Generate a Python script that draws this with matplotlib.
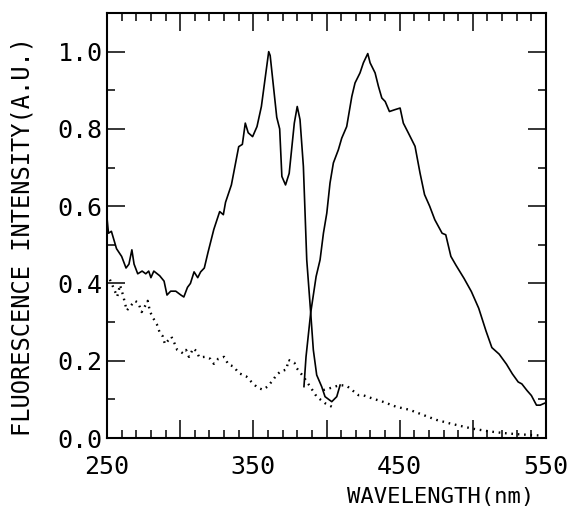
import matplotlib
matplotlib.use("Agg")
import matplotlib.pyplot as plt
from matplotlib.ticker import MultipleLocator, FuncFormatter

# Excitation spectrum (solid)
exc_wl = [250, 251, 253, 256.5, 260, 263, 265, 267, 268.5, 271, 274, 276.5, 278.5, 280, 282,
          286, 289, 291, 293.5, 297, 300.5, 302.5, 305, 307, 309.5, 312, 314, 316.5, 319, 323,
          327, 329.5, 331, 335, 340, 342.5, 344.5, 346.5, 349.5, 352.5, 355.5, 360.5, 361.5,
          366, 368, 369.5, 372, 374.5, 378, 380, 381.9, 384.2, 386.5, 389.2, 391, 393.3,
          396.7, 399, 403.6, 407, 409.3]
exc_val = [0.57, 0.53, 0.535, 0.49, 0.47, 0.44, 0.45, 0.487, 0.45, 0.425, 0.432, 0.425, 0.432,
           0.415, 0.432, 0.42, 0.406, 0.37, 0.38, 0.38, 0.37, 0.365, 0.39, 0.40, 0.43, 0.415,
           0.43, 0.44, 0.48, 0.54, 0.586, 0.578, 0.61, 0.655, 0.754, 0.76, 0.815, 0.79, 0.78,
           0.806, 0.858, 1.0, 0.99, 0.83, 0.80, 0.677, 0.655, 0.685, 0.815, 0.858, 0.824, 0.703,
           0.461, 0.324, 0.228, 0.163, 0.133, 0.107, 0.094, 0.107, 0.137]

# Emission spectrum (solid)
emi_wl = [384.6, 386, 389.2, 392.9, 395.6, 397.9, 400.2, 402.4, 404.7, 408.1, 410.4, 413.8,
          417.3, 419.5, 422.9, 425.2, 428.2, 429.8, 433.2, 435.5, 437.8, 440.1, 443, 446.9,
          450.3, 452.5, 456, 460.5, 463.9, 467, 470.5, 474, 479, 481.5, 485, 488.5, 494, 499,
          504, 509, 513, 518, 523, 527, 531, 533.5, 537, 540, 543.5, 546, 549]
emi_val = [0.133, 0.21, 0.324, 0.418, 0.461, 0.53, 0.582, 0.66, 0.712, 0.746, 0.776, 0.806,
           0.884, 0.919, 0.945, 0.971, 0.995, 0.971, 0.945, 0.91, 0.88, 0.871, 0.845, 0.85,
           0.854, 0.815, 0.789, 0.755, 0.686, 0.63, 0.60, 0.565, 0.53, 0.526, 0.47, 0.447,
           0.413, 0.379, 0.336, 0.277, 0.234, 0.217, 0.191, 0.166, 0.145, 0.14, 0.123, 0.11,
           0.085, 0.085, 0.09]

# Blank excitation (dotted)
bex_wl = [252, 257, 258.9, 261, 263.5, 265.7, 267.3, 269, 271.4, 273.7, 275.5, 277.8, 279.4,
          281.6, 284, 286.2, 288, 289.6, 294, 295.8, 298, 299.9, 302, 304, 306, 309, 311.3,
          313, 317, 320.6, 323, 326, 330, 333, 336.6, 340, 345, 349.5, 353, 356.6, 360, 363.6,
          366, 369, 372.6, 374, 378, 379.6, 384.2, 388.8, 393.3, 399, 403.6]
bex_val = [0.41, 0.366, 0.396, 0.369, 0.33, 0.34, 0.347, 0.355, 0.35, 0.326, 0.338, 0.355,
           0.327, 0.31, 0.295, 0.271, 0.264, 0.243, 0.262, 0.248, 0.228, 0.224, 0.219, 0.228,
           0.21, 0.232, 0.224, 0.209, 0.21, 0.205, 0.192, 0.205, 0.21, 0.19, 0.185, 0.168,
           0.16, 0.142, 0.13, 0.125, 0.134, 0.151, 0.164, 0.173, 0.177, 0.202, 0.195, 0.181,
           0.159, 0.133, 0.107, 0.09, 0.081]

# Blank emission (dotted)
bem_wl = [397.8, 402.4, 409.2, 413.8, 421.8, 424.8, 431.6, 438.4, 447.5, 456.7, 465.8, 475,
          484, 493, 500, 511.4, 520.5, 529.6, 538.7, 547.8]
bem_val = [0.124, 0.129, 0.137, 0.135, 0.111, 0.111, 0.102, 0.094, 0.081, 0.073, 0.060, 0.047,
           0.038, 0.030, 0.024, 0.017, 0.013, 0.010, 0.008, 0.006]

x_major = [250, 300, 350, 400, 450, 500, 550]
x_labels = {250: "250", 350: "350", 450: "450", 550: "550"}
y_major = [0.0, 0.2, 0.4, 0.6, 0.8, 1.0]

FONT = "DejaVu Sans Mono"

fig = plt.figure(figsize=(5.86, 5.17), dpi=100)
ax = fig.add_axes([107 / 586, 1 - 438 / 517, (546 - 107) / 586, (438 - 13) / 517])

ax.plot(exc_wl, exc_val, color="black", lw=1.2)
ax.plot(emi_wl, emi_val, color="black", lw=1.2)
ax.plot(bex_wl, bex_val, color="black", lw=1.7, linestyle=(0, (0.7, 2.0)))
ax.plot(bem_wl, bem_val, color="black", lw=1.7, linestyle=(0, (0.7, 2.0)))

ax.set_xlim(250, 550)
ax.set_ylim(0, 1.1)

ax.set_xticks(x_major)
ax.xaxis.set_minor_locator(MultipleLocator(10))
ax.xaxis.set_major_formatter(FuncFormatter(lambda v, p: x_labels.get(int(round(v)), "")))
ax.set_yticks(y_major)
ax.yaxis.set_minor_locator(MultipleLocator(0.1))
ax.yaxis.set_major_formatter(FuncFormatter(lambda v, p: f"{v:.1f}"))

ax.tick_params(which="both", direction="in", top=True, right=True, width=1.1, colors="black")
ax.tick_params(which="major", length=13)
ax.tick_params(which="minor", length=6)
ax.tick_params(axis="x", which="major", pad=12)
ax.tick_params(axis="y", which="major", pad=3)

for lbl in ax.get_xticklabels() + ax.get_yticklabels():
    lbl.set_fontfamily(FONT)
    lbl.set_fontsize(18)

for sp in ax.spines.values():
    sp.set_linewidth(1.5)

fig.text(441 / 586, 1 - 497 / 517, "WAVELENGTH(nm)", family=FONT, fontsize=16,
         ha="center", va="center")
fig.text(23 / 586, 1 - 236 / 517, "FLUORESCENCE INTENSITY(A.U.)", family=FONT, fontsize=17,
         ha="center", va="center", rotation=90)

fig.savefig("out.png", dpi=100)
